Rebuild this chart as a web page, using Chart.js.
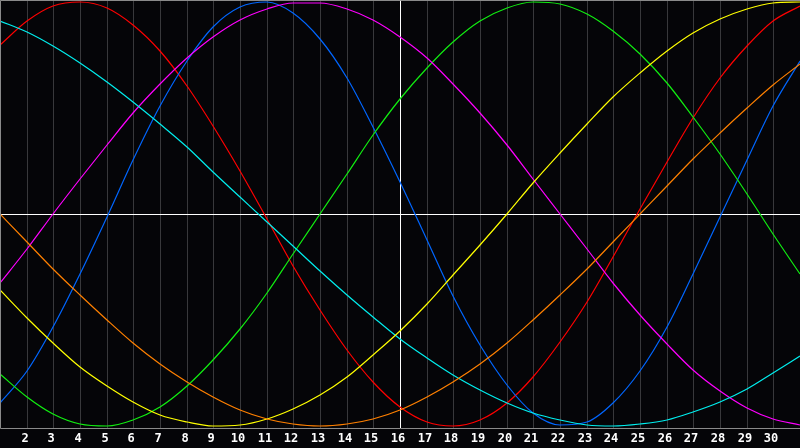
<!DOCTYPE html>
<html>
<head>
<meta charset="UTF-8">
<title>Biorhythm</title>
<script src="https://cdn.jsdelivr.net/npm/chart.js"></script>
<style>
    html, body {
        margin: 0;
        padding: 0;
        background: #050508;
    }
    .wrap {
        width: 800px;
        height: 448px;
        position: relative;
    }
</style>
</head>
<body>
<div class="wrap"><canvas id="bio"></canvas></div>
<script>
    // days of the month shown on the x axis
    const days = [1,2,3,4,5,6,7,8,9,10,11,12,13,14,15,16,17,18,19,20,21,22,23,24,25,26,27,28,29,30,31];
    const today = 16;

    // curve values (-1 .. 1)
    const physical = [-0.894,-0.740,-0.531,-0.283,-0.014,0.257,0.508,0.722,0.881,0.976,0.999,0.947,0.825,0.641,0.411,0.149,-0.122,-0.386,-0.620,-0.809,-0.938,-0.997,-0.982,-0.894,-0.740,-0.531,-0.283,-0.014,0.257,0.508,0.722];
    const emotional = [0.796,0.911,0.980,1.000,0.970,0.891,0.767,0.606,0.413,0.201,-0.023,-0.244,-0.454,-0.641,-0.795,-0.911,-0.980,-1.000,-0.970,-0.891,-0.767,-0.606,-0.413,-0.201,0.023,0.244,0.454,0.641,0.795,0.911,0.980];
    const intellectual = [-0.756,-0.866,-0.945,-0.990,-0.999,-0.972,-0.910,-0.814,-0.690,-0.541,-0.372,-0.189,0.000,0.189,0.372,0.541,0.690,0.814,0.910,0.972,0.999,0.990,0.945,0.866,0.756,0.618,0.458,0.282,0.095,-0.095,-0.282];
    const intuitive = [-0.324,-0.165,0.000,0.165,0.324,0.476,0.614,0.735,0.837,0.916,0.969,0.997,0.997,0.969,0.916,0.837,0.735,0.614,0.476,0.324,0.165,0.000,-0.165,-0.324,-0.476,-0.614,-0.735,-0.837,-0.916,-0.969,-0.997];
    const aesthetic = [-0.357,-0.489,-0.611,-0.720,-0.813,-0.889,-0.947,-0.983,-0.999,-0.994,-0.967,-0.920,-0.854,-0.769,-0.667,-0.552,-0.424,-0.287,-0.146,0.000,0.146,0.287,0.424,0.552,0.667,0.769,0.854,0.920,0.967,0.994,0.999];
    const awareness = [0.000,-0.131,-0.259,-0.383,-0.500,-0.609,-0.707,-0.793,-0.866,-0.924,-0.966,-0.991,-1.000,-0.991,-0.966,-0.924,-0.866,-0.793,-0.707,-0.609,-0.500,-0.383,-0.259,-0.131,0.000,0.131,0.259,0.383,0.500,0.609,0.707];
    const spiritual = [0.913,0.858,0.791,0.713,0.625,0.528,0.424,0.314,0.199,0.082,-0.037,-0.153,-0.269,-0.381,-0.488,-0.588,-0.679,-0.762,-0.833,-0.893,-0.940,-0.974,-0.994,-1.000,-0.992,-0.970,-0.935,-0.886,-0.825,-0.752,-0.669];

    function line(data, color) {
        return {
            data: data,
            borderColor: color,
            borderWidth: 1.2,
            pointRadius: 0,
            cubicInterpolationMode: 'monotone',
            fill: false
        };
    }

    // gray frame: top, left and bottom edges of the plot
    const frame = {
        id: 'frame',
        afterDraw(chart) {
            const a = chart.chartArea;
            const c = chart.ctx;
            const b = Math.round(a.bottom) + 0.5;
            c.save();
            c.strokeStyle = '#8a8a8a';
            c.lineWidth = 1;
            c.beginPath();
            c.moveTo(chart.width, 0.5);
            c.lineTo(0.5, 0.5);
            c.lineTo(0.5, b);
            c.lineTo(chart.width, b);
            c.stroke();
            c.restore();
        }
    };

    new Chart(document.getElementById('bio'), {
        type: 'line',
        data: {
            labels: days,
            datasets: [
                line(awareness, '#ff8000'),
                line(aesthetic, '#ffff00'),
                line(spiritual, '#00eeee'),
                line(intuitive, '#ff00ff'),
                line(intellectual, '#11ee11'),
                line(physical, '#0066ff'),
                line(emotional, '#ff0000')
            ]
        },
        options: {
            responsive: true,
            maintainAspectRatio: false,
            animation: false,
            layout: { autoPadding: false, padding: 0 },
            plugins: {
                legend: { display: false },
                tooltip: { enabled: false }
            },
            scales: {
                x: {
                    alignToPixels: true,
                    afterFit: s => { s.paddingLeft = 0; s.paddingRight = 0; s.height = 20; },
                    grid: {
                        drawTicks: false,
                        color: ctx => ctx.index === days.indexOf(today) ? '#ffffff' : '#38383b'
                    },
                    border: { display: false },
                    ticks: {
                        autoSkip: false,
                        maxRotation: 0,
                        padding: 4,
                        labelOffset: -2,
                        color: '#ffffff',
                        font: { family: 'DejaVu Sans Mono', size: 12, weight: 'bold' },
                        callback: function (v, i) {
                            return (i === 0 || i === days.length - 1) ? '' : this.getLabelForValue(v);
                        }
                    }
                },
                y: {
                    min: -1.01,
                    max: 1.01,
                    alignToPixels: true,
                    afterBuildTicks: axis => { axis.ticks = [{ value: 0 }]; },
                    grid: { drawTicks: false, color: '#ffffff' },
                    border: { display: false },
                    ticks: { display: false }
                }
            }
        },
        plugins: [frame]
    });
</script>
</body>
</html>
